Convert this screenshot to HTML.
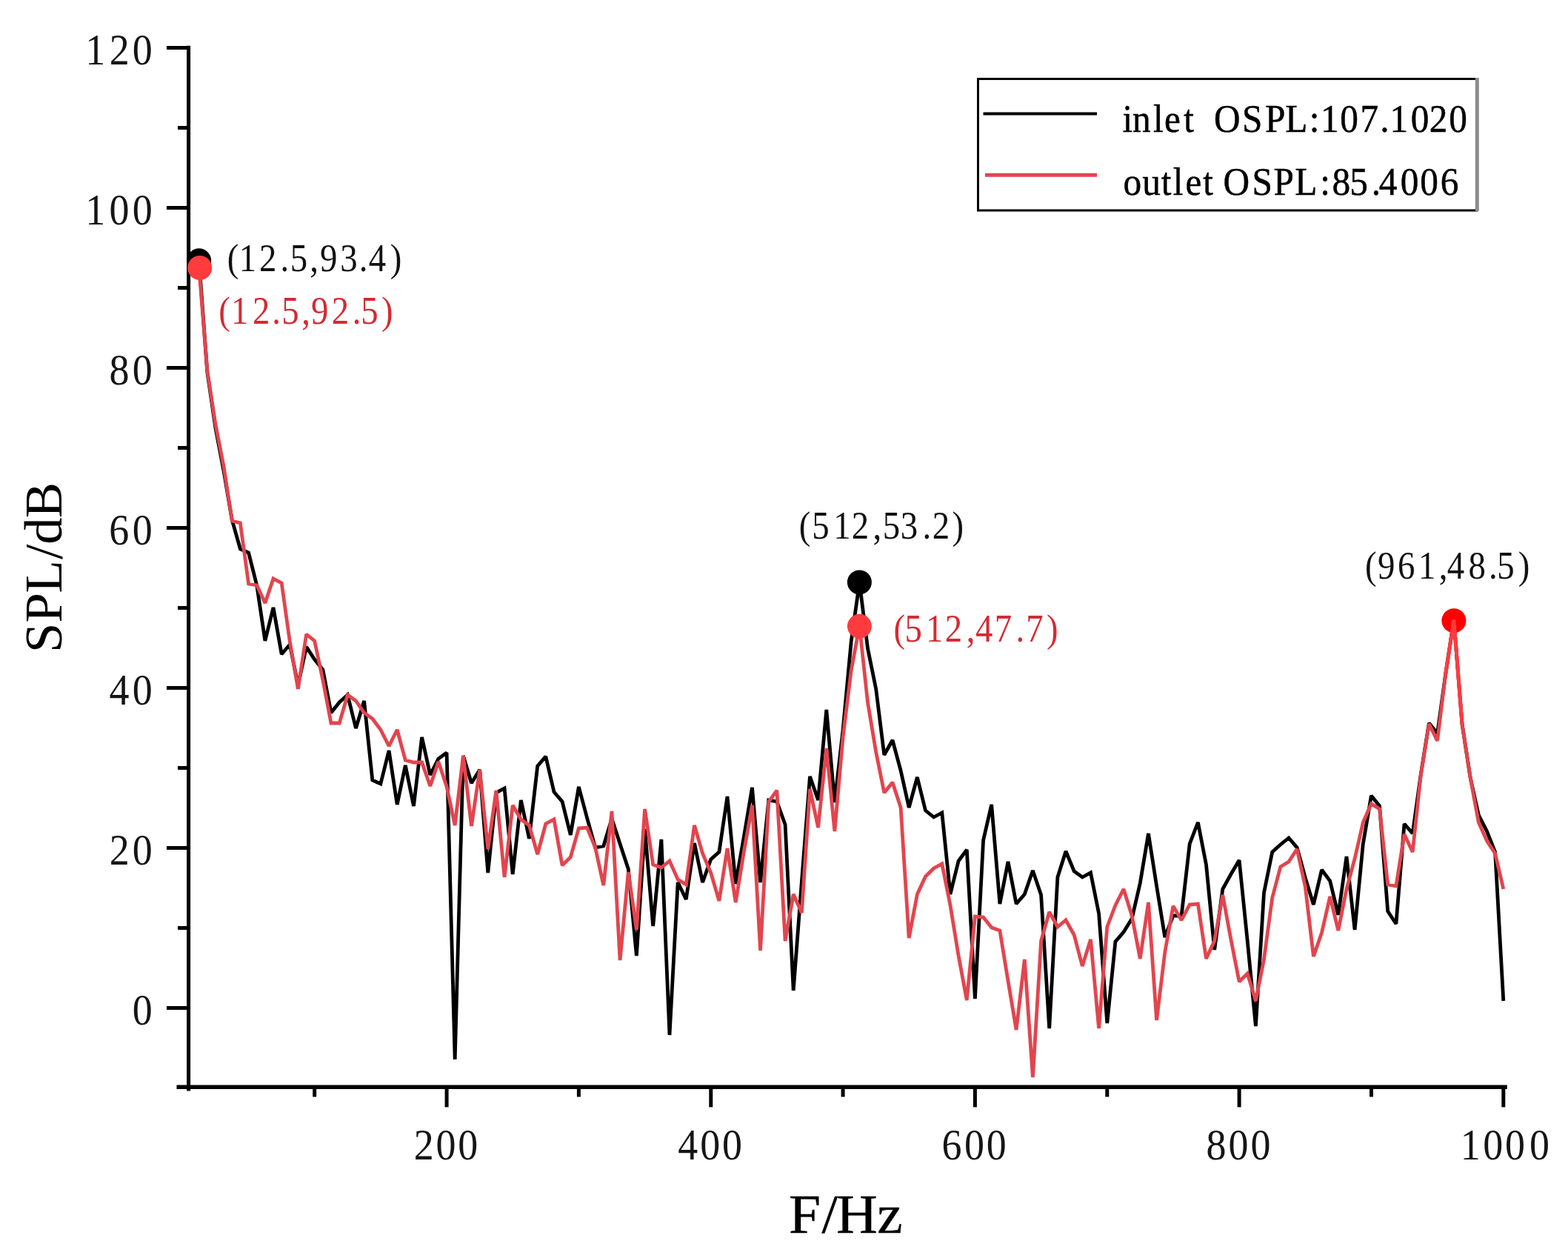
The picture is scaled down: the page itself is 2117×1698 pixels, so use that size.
<!DOCTYPE html>
<html><head><meta charset="utf-8"><title>SPL spectrum</title>
<style>
html,body{margin:0;padding:0;background:#fff;}
body{width:2117px;height:1698px;overflow:hidden;}
svg{display:block;}
text{font-family:'Liberation Serif','Times New Roman',serif;}
</style></head><body>
<svg width="2117" height="1698" viewBox="0 0 2117 1698">
<rect x="0" y="0" width="2117" height="1698" fill="#fff"/>

<path d="M268.7,351.8 L279.8,502.0 L291.0,578.0 L302.1,636.0 L313.3,702.0 L324.4,741.0 L335.6,746.0 L346.7,790.0 L357.9,865.0 L369.0,820.0 L380.2,883.0 L391.3,870.0 L402.4,925.0 L413.6,873.0 L424.7,890.0 L435.9,904.0 L447.0,962.0 L458.2,948.0 L469.3,938.0 L480.5,983.0 L491.6,946.0 L502.8,1053.0 L513.9,1058.0 L525.1,1013.0 L536.2,1086.0 L547.3,1033.0 L558.5,1088.0 L569.6,995.0 L580.8,1046.0 L591.9,1024.0 L603.1,1016.0 L614.2,1430.0 L625.4,1020.0 L636.5,1057.0 L647.7,1039.0 L658.8,1178.0 L669.9,1070.0 L681.1,1064.0 L692.2,1180.0 L703.4,1080.0 L714.5,1132.0 L725.7,1034.0 L736.8,1021.0 L748.0,1069.0 L759.1,1082.0 L770.3,1127.0 L781.4,1062.0 L792.6,1104.0 L803.7,1144.0 L814.8,1142.0 L826.0,1105.0 L837.1,1139.0 L848.3,1173.0 L859.4,1290.0 L870.6,1119.0 L881.7,1250.0 L892.9,1133.0 L904.0,1397.0 L915.2,1191.0 L926.3,1214.0 L937.5,1138.0 L948.6,1191.0 L959.7,1160.0 L970.9,1150.0 L982.0,1075.0 L993.2,1193.0 L1004.3,1130.0 L1015.5,1063.0 L1026.6,1191.0 L1037.8,1080.0 L1048.9,1082.0 L1060.1,1113.0 L1071.2,1337.0 L1082.4,1190.0 L1093.5,1048.0 L1104.6,1080.0 L1115.8,958.0 L1126.9,1083.0 L1138.1,985.0 L1149.2,866.0 L1160.4,786.0 L1171.5,875.0 L1182.7,930.0 L1193.8,1019.0 L1205.0,999.0 L1216.1,1040.0 L1227.2,1090.0 L1238.4,1049.0 L1249.5,1094.0 L1260.7,1103.0 L1271.8,1097.0 L1283.0,1207.0 L1294.1,1162.0 L1305.3,1147.0 L1316.4,1348.0 L1327.6,1134.0 L1338.7,1086.0 L1349.9,1220.0 L1361.0,1163.0 L1372.1,1220.0 L1383.3,1207.0 L1394.4,1175.0 L1405.6,1208.0 L1416.7,1388.0 L1427.9,1184.0 L1439.0,1149.0 L1450.2,1176.0 L1461.3,1184.0 L1472.5,1178.0 L1483.6,1233.0 L1494.8,1381.0 L1505.9,1271.0 L1517.0,1258.0 L1528.2,1240.0 L1539.3,1192.0 L1550.5,1125.0 L1561.6,1196.0 L1572.8,1265.0 L1583.9,1236.0 L1595.1,1236.0 L1606.2,1139.0 L1617.4,1110.0 L1628.5,1167.0 L1639.7,1282.0 L1650.8,1200.0 L1661.9,1180.0 L1673.1,1161.0 L1684.2,1270.0 L1695.4,1385.0 L1706.5,1205.0 L1717.7,1150.0 L1728.8,1140.0 L1740.0,1131.0 L1751.1,1144.0 L1762.3,1185.0 L1773.4,1221.0 L1784.5,1174.0 L1795.7,1189.0 L1806.8,1235.0 L1818.0,1156.0 L1829.1,1255.0 L1840.3,1139.0 L1851.4,1074.0 L1862.6,1088.0 L1873.7,1230.0 L1884.9,1247.0 L1896.0,1112.0 L1907.2,1125.0 L1918.3,1045.0 L1929.4,976.0 L1940.6,990.0 L1951.7,910.0 L1962.9,836.7 L1974.0,977.0 L1985.2,1050.0 L1996.3,1100.0 L2007.5,1122.0 L2018.6,1150.0 L2029.8,1351.0" fill="none" stroke="#000" stroke-width="4.8" stroke-linejoin="miter" stroke-miterlimit="2"/>
<path d="M268.7,361.5 L279.8,500.0 L291.0,573.0 L302.1,630.0 L313.3,703.0 L324.4,706.0 L335.6,788.0 L346.7,790.0 L357.9,814.0 L369.0,781.0 L380.2,787.0 L391.3,866.0 L402.4,930.0 L413.6,856.0 L424.7,865.0 L435.9,918.0 L447.0,976.0 L458.2,976.0 L469.3,938.0 L480.5,946.0 L491.6,962.0 L502.8,970.0 L513.9,985.0 L525.1,1007.0 L536.2,985.0 L547.3,1026.0 L558.5,1029.0 L569.6,1029.0 L580.8,1061.0 L591.9,1028.0 L603.1,1062.0 L614.2,1114.0 L625.4,1020.0 L636.5,1115.0 L647.7,1039.0 L658.8,1146.0 L669.9,1067.0 L681.1,1184.0 L692.2,1087.0 L703.4,1106.0 L714.5,1114.0 L725.7,1153.0 L736.8,1112.0 L748.0,1106.0 L759.1,1168.0 L770.3,1157.0 L781.4,1118.0 L792.6,1117.0 L803.7,1144.0 L814.8,1195.0 L826.0,1095.0 L837.1,1296.0 L848.3,1177.0 L859.4,1255.0 L870.6,1092.0 L881.7,1167.0 L892.9,1171.0 L904.0,1162.0 L915.2,1187.0 L926.3,1194.0 L937.5,1114.0 L948.6,1152.0 L959.7,1178.0 L970.9,1216.0 L982.0,1145.0 L993.2,1218.0 L1004.3,1150.0 L1015.5,1087.0 L1026.6,1283.0 L1037.8,1082.0 L1048.9,1067.0 L1060.1,1270.0 L1071.2,1207.0 L1082.4,1232.0 L1093.5,1065.0 L1104.6,1117.0 L1115.8,1010.0 L1126.9,1122.0 L1138.1,995.0 L1149.2,905.0 L1160.4,845.0 L1171.5,948.0 L1182.7,1015.0 L1193.8,1070.0 L1205.0,1056.0 L1216.1,1090.0 L1227.2,1266.0 L1238.4,1207.0 L1249.5,1183.0 L1260.7,1172.0 L1271.8,1166.0 L1283.0,1222.0 L1294.1,1290.0 L1305.3,1350.0 L1316.4,1237.0 L1327.6,1238.0 L1338.7,1252.0 L1349.9,1256.0 L1361.0,1324.0 L1372.1,1390.0 L1383.3,1295.0 L1394.4,1454.0 L1405.6,1270.0 L1416.7,1231.0 L1427.9,1251.0 L1439.0,1242.0 L1450.2,1262.0 L1461.3,1304.0 L1472.5,1268.0 L1483.6,1388.0 L1494.8,1251.0 L1505.9,1222.0 L1517.0,1200.0 L1528.2,1236.0 L1539.3,1294.0 L1550.5,1218.0 L1561.6,1377.0 L1572.8,1285.0 L1583.9,1223.0 L1595.1,1242.0 L1606.2,1221.0 L1617.4,1220.0 L1628.5,1294.0 L1639.7,1270.0 L1650.8,1208.0 L1661.9,1268.0 L1673.1,1325.0 L1684.2,1314.0 L1695.4,1351.0 L1706.5,1295.0 L1717.7,1212.0 L1728.8,1170.0 L1740.0,1163.0 L1751.1,1146.0 L1762.3,1197.0 L1773.4,1291.0 L1784.5,1259.0 L1795.7,1210.0 L1806.8,1256.0 L1818.0,1200.0 L1829.1,1159.0 L1840.3,1110.0 L1851.4,1085.0 L1862.6,1092.0 L1873.7,1194.0 L1884.9,1196.0 L1896.0,1126.0 L1907.2,1150.0 L1918.3,1046.0 L1929.4,977.0 L1940.6,1000.0 L1951.7,910.0 L1962.9,836.7 L1974.0,977.0 L1985.2,1050.0 L1996.3,1110.0 L2007.5,1135.0 L2018.6,1152.0 L2029.8,1200.0" fill="none" stroke="#e2454e" stroke-width="4.8" stroke-linejoin="miter" stroke-miterlimit="2"/>
<g stroke="#000" fill="none">
<line x1="254.6" y1="61.8" x2="254.6" y2="1472.5" stroke-width="5"/>
<line x1="238.5" y1="1467.2" x2="2034.8" y2="1467.2" stroke-width="5.4"/>
<line x1="225" y1="1360.5" x2="254.6" y2="1360.5" stroke-width="5"/>
<line x1="225" y1="1144.5" x2="254.6" y2="1144.5" stroke-width="5"/>
<line x1="225" y1="928.5" x2="254.6" y2="928.5" stroke-width="5"/>
<line x1="225" y1="712.5" x2="254.6" y2="712.5" stroke-width="5"/>
<line x1="225" y1="496.5" x2="254.6" y2="496.5" stroke-width="5"/>
<line x1="225" y1="280.5" x2="254.6" y2="280.5" stroke-width="5"/>
<line x1="225" y1="64.5" x2="254.6" y2="64.5" stroke-width="5"/>
<line x1="240" y1="1252.5" x2="254.6" y2="1252.5" stroke-width="5"/>
<line x1="240" y1="1036.5" x2="254.6" y2="1036.5" stroke-width="5"/>
<line x1="240" y1="820.5" x2="254.6" y2="820.5" stroke-width="5"/>
<line x1="240" y1="604.5" x2="254.6" y2="604.5" stroke-width="5"/>
<line x1="240" y1="388.5" x2="254.6" y2="388.5" stroke-width="5"/>
<line x1="240" y1="172.5" x2="254.6" y2="172.5" stroke-width="5"/>
<line x1="603.1" y1="1467" x2="603.1" y2="1494.4" stroke-width="5"/>
<line x1="959.8" y1="1467" x2="959.8" y2="1494.4" stroke-width="5"/>
<line x1="1316.4" y1="1467" x2="1316.4" y2="1494.4" stroke-width="5"/>
<line x1="1673.1" y1="1467" x2="1673.1" y2="1494.4" stroke-width="5"/>
<line x1="2029.8" y1="1467" x2="2029.8" y2="1494.4" stroke-width="5"/>
<line x1="424.7" y1="1467" x2="424.7" y2="1480.5" stroke-width="5"/>
<line x1="781.4" y1="1467" x2="781.4" y2="1480.5" stroke-width="5"/>
<line x1="1138.1" y1="1467" x2="1138.1" y2="1480.5" stroke-width="5"/>
<line x1="1494.8" y1="1467" x2="1494.8" y2="1480.5" stroke-width="5"/>
<line x1="1851.5" y1="1467" x2="1851.5" y2="1480.5" stroke-width="5"/>
</g>
<g fill="#151515">
<text x="198.56" y="1382.80" font-size="60" transform="scale(0.9,1)"  xml:space="preserve">0</text>
<text x="164.23 198.56" y="1166.80" font-size="60" transform="scale(0.9,1)"  xml:space="preserve">20</text>
<text x="163.77 198.56" y="950.80" font-size="60" transform="scale(0.9,1)"  xml:space="preserve">40</text>
<text x="163.49 198.56" y="734.80" font-size="60" transform="scale(0.9,1)"  xml:space="preserve">60</text>
<text x="163.89 198.56" y="518.80" font-size="60" transform="scale(0.9,1)"  xml:space="preserve">80</text>
<text x="128.17 163.89 198.56" y="302.80" font-size="60" transform="scale(0.9,1)"  xml:space="preserve">100</text>
<text x="128.17 164.23 198.56" y="86.80" font-size="60" transform="scale(0.9,1)"  xml:space="preserve">120</text>
<text x="620.98 653.98 687.09" y="1564.80" font-size="60" transform="scale(0.9,1)"  xml:space="preserve">200</text>
<text x="1016.84 1050.29 1083.40" y="1564.80" font-size="60" transform="scale(0.9,1)"  xml:space="preserve">400</text>
<text x="1412.87 1446.60 1479.71" y="1564.80" font-size="60" transform="scale(0.9,1)"  xml:space="preserve">600</text>
<text x="1809.58 1842.91 1876.02" y="1564.80" font-size="60" transform="scale(0.9,1)"  xml:space="preserve">800</text>
<text x="2190.83 2224.67 2257.78 2294.33" y="1564.80" font-size="60" transform="scale(0.9,1)"  xml:space="preserve">1000</text>
</g>
<text x="1014.37 1056.73 1075.35 1127.80" y="1663.60" font-size="73.6" transform="scale(1.05,1)" fill="#000" stroke="#000" stroke-width="0.4" xml:space="preserve">F/Hz</text>
<g transform="translate(82.8,0) rotate(-90)"><text x="-881.04 -840.55 -800.51 -755.07 -734.79 -699.35" y="0.00" font-size="72.5" fill="#000" xml:space="preserve">SPL/dB</text></g>
<rect x="1320.5" y="106.5" width="673" height="177.5" fill="#fff" stroke="#000" stroke-width="3"/>
<line x1="1994.3" y1="105" x2="1994.3" y2="285" stroke="#8c8c8c" stroke-width="5"/>
<line x1="1327.5" y1="153.5" x2="1481" y2="153.5" stroke="#000" stroke-width="4"/>
<line x1="1330" y1="236.3" x2="1481" y2="236.3" stroke="#e2454e" stroke-width="5"/>
<text x="1629.68 1644.18 1674.14 1690.38 1718.56 1733.28 1746.53 1762.37 1803.20 1836.53 1865.82 1900.75 1917.30 1945.35 1974.80 2003.37 2017.63 2048.15 2075.11 2103.42" y="178.30" font-size="53" transform="scale(0.93,1)" fill="#000" stroke="#000" stroke-width="0.5" xml:space="preserve">inlet  OSPL:107.1020</text>
<text x="1630.73 1658.36 1685.65 1702.85 1720.92 1746.62 1761.35 1775.81 1817.82 1849.00 1879.80 1916.35 1933.95 1959.47 1991.01 2001.81 2032.99 2061.59 2091.02" y="262.70" font-size="53" transform="scale(0.93,1)" fill="#000" stroke="#000" stroke-width="0.5" xml:space="preserve">outlet OSPL:85.4006</text>
<circle cx="268.7" cy="351.8" r="16.5" fill="#000"/>
<circle cx="269.7" cy="361.5" r="16.5" fill="#ff3b3b"/>
<circle cx="1160.4" cy="785.9" r="16.5" fill="#000"/>
<circle cx="1160.4" cy="845.3" r="16.5" fill="#ff3b3f"/>
<circle cx="1962.9" cy="837.7" r="16.5" fill="#ff0000"/>
<path d="M1951.7,910 L1962.9,836.7 L1974.0,977" fill="none" stroke="#ff3b3f" stroke-width="4.8"/>
<text x="340.81 358.61 388.85 420.61 435.28 464.59 480.01 510.33 538.72 553.12 585.42" y="366.30" font-size="52" transform="scale(0.9,1)" fill="#111"  xml:space="preserve">(12.5,93.4)</text>
<text x="328.15 346.61 378.85 407.94 422.62 452.59 466.67 497.51 528.72 541.39 572.31" y="436.70" font-size="52" transform="scale(0.9,1)" fill="#d42a34"  xml:space="preserve">(12.5,92.5)</text>
<text x="1198.59 1218.17 1250.28 1277.63 1309.48 1324.28 1350.77 1383.94 1398.74 1428.31" y="726.70" font-size="52" transform="scale(0.9,1)" fill="#111"  xml:space="preserve">(512,53.2)</text>
<text x="1340.70 1357.28 1388.94 1417.63 1449.70 1463.23 1491.92 1523.94 1539.15 1569.98" y="865.60" font-size="52" transform="scale(0.9,1)" fill="#d42a34"  xml:space="preserve">(512,47.7)</text>
<text x="2047.81 2066.67 2096.66 2127.83 2158.59 2170.90 2202.89 2233.28 2245.84 2277.42" y="780.60" font-size="52" transform="scale(0.9,1)" fill="#111"  xml:space="preserve">(961,48.5)</text>
</svg></body></html>
